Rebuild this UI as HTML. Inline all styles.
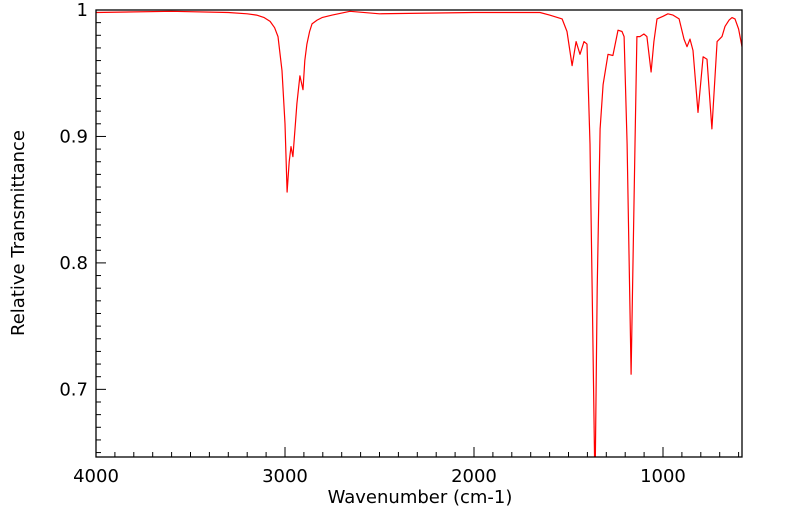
<!DOCTYPE html>
<html><head><meta charset="utf-8"><style>
html,body{margin:0;padding:0;background:#fff;}
svg{display:block;font-family:"DejaVu Sans","Liberation Sans",sans-serif;}
</style></head><body>
<svg id="chart" width="799" height="516">
<defs><clipPath id="clip"><rect x="96" y="10" width="646" height="447"/></clipPath></defs>
<g id="axes"></g>
<polyline id="spectrum" clip-path="url(#clip)" fill="none" stroke="#ff0000" stroke-width="1.2" stroke-linejoin="round"/>
<rect x="96" y="10" width="646" height="447" fill="none" stroke="#000" stroke-width="1.3"/>
<text x="420" y="503" font-size="18" text-anchor="middle">Wavenumber (cm-1)</text>
<text transform="translate(24,233) rotate(-90)" font-size="18" text-anchor="middle">Relative Transmittance</text>
</svg>
<script>
const wavenumbers=[4000,3600,3300,3200,3150,3110,3079,3055,3037,3016,3000,2989,2978,2968,2958,2945,2937,2921,2905,2895,2884,2870,2857,2830,2804,2750,2656,2500,2000,1704,1651,1600,1534,1508,1481,1460,1439,1418,1402,1386,1372,1360,1348,1333,1323,1317,1291,1265,1238,1217,1206,1190,1169,1148,1138,1122,1101,1085,1063,1048,1032,1000,974,947,915,889,873,857,841,815,788,767,741,714,688,672,650,635,619,600,582];
const transmittance=[0.998,0.999,0.998,0.997,0.996,0.994,0.991,0.986,0.979,0.952,0.91,0.856,0.88,0.892,0.884,0.91,0.926,0.948,0.937,0.96,0.973,0.983,0.989,0.992,0.994,0.996,0.999,0.997,0.998,0.998,0.998,0.996,0.993,0.983,0.956,0.975,0.965,0.975,0.973,0.894,0.75,0.62,0.78,0.906,0.928,0.941,0.965,0.964,0.984,0.983,0.979,0.894,0.712,0.894,0.979,0.979,0.981,0.979,0.951,0.975,0.993,0.995,0.997,0.996,0.993,0.977,0.971,0.977,0.968,0.919,0.963,0.961,0.906,0.975,0.979,0.987,0.992,0.994,0.993,0.985,0.971];
const xTicks=[4000,3000,2000,1000];
const yTicks=[0.7,0.8,0.9,1.0];
const yTickLabels=["0.7","0.8","0.9","1"];
const xMax=4000,xMin=582,yMin=0.6465,yMax=1.0;
const L=96,R=742,T=10,B=457;
function sx(w){return L+(xMax-w)/(xMax-xMin)*(R-L);}
function sy(v){return B-(v-yMin)/(yMax-yMin)*(B-T);}
const NS="http://www.w3.org/2000/svg";
const ax=document.getElementById('axes');
function line(x1,y1,x2,y2,name){const l=document.createElementNS(NS,'line');
l.setAttribute('x1',x1);l.setAttribute('y1',y1);l.setAttribute('x2',x2);l.setAttribute('y2',y2);
l.setAttribute('stroke','#000');l.setAttribute('stroke-width','1');


ax.appendChild(l);}
function text(x,y,s,anchor,name){const t=document.createElementNS(NS,'text');
t.setAttribute('x',x);t.setAttribute('y',y);t.setAttribute('font-size','18');t.setAttribute('text-anchor',anchor);t.textContent=s;


ax.appendChild(t);}
for(let w=4000;w>=xMin;w-=100){const x=sx(w);const major=w%1000===0;line(x,B,x,B-(major?10:5),major?'x-major-tick':'x-minor-tick');}
xTicks.forEach(w=>text(sx(w),B+25,String(w),'middle','x-tick-label'));
for(let i=65;i<=100;i++){const v=i/100;const y=sy(v);const major=i%10===0;line(L,y,L+(major?10:5),y,major?'y-major-tick':'y-minor-tick');}
yTicks.forEach((v,i)=>text(L-8,sy(v)+6,yTickLabels[i],'end','y-tick-label'));
document.getElementById('spectrum').setAttribute('points',wavenumbers.map((w,i)=>sx(w).toFixed(1)+','+sy(transmittance[i]).toFixed(1)).join(' '));
</script>
</body></html>
